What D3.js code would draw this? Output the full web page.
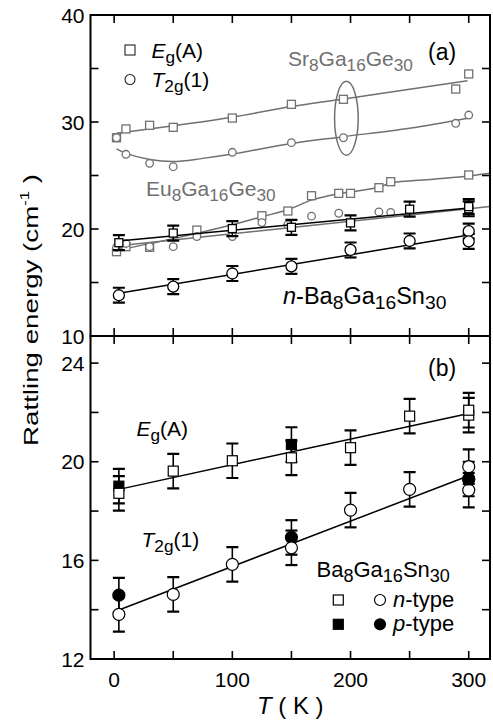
<!DOCTYPE html>
<html><head><meta charset="utf-8">
<script src="https://cdn.jsdelivr.net/npm/d3@7"></script>
<style>body{margin:0;background:#fff}svg{display:block;font-family:"Liberation Sans",Arial,sans-serif}</style>
</head><body><svg id="c" width="493" height="721"></svg>
<script>
// ---------- DATA ----------
const xTicks = [0,50,100,150,200,250,300];
const xTickLabels = [0,100,200,300];
const yTicksA = [10,15,20,25,30,35,40];
const yTickLabelsA = [10,20,30,40];
const yTicksB = [12,14,16,18,20,22,24];
const yTickLabelsB = [12,16,20,24];

// Sr8Ga16Ge30 (gray, panel a)
const srT = [2,10,30,50,100,150,194,289,300];
const srEg = [28.53,29.35,29.69,29.5,30.37,31.65,32.12,33.08,34.49];
const srT2gT = [2,10,30,50,100,150,194,289,300];
const srT2g = [28.53,26.98,26.14,25.82,27.17,28.07,28.53,29.88,30.65];
const srEgFitT = [2,100,150,200,299];
const srEgFit = [28.95,30.45,31.45,32.25,33.85];
const srT2gFitT = [2,10,30,50,75,100,150,194,250,299];
const srT2gFit = [27.48,27.07,26.5,26.3,26.6,27.0,28.0,28.63,29.41,30.34];

// Eu8Ga16Ge30 (gray, panel a)
const euEgT = [2,10,30,70,125,147,167,190,200,224,234,300];
const euEg = [17.88,18.35,18.29,19.9,21.24,21.68,23.11,23.33,23.33,23.86,24.42,25.05];
const euT2gT = [2,10,30,50,70,100,125,147,167,190,224,234];
const euT2g = [18.29,18.65,18.35,18.35,19.3,19.3,20.6,20.4,21.2,21.47,21.6,21.55];
const euEgFitT = [2,50,100,125,147,167,190,200,224,234,270,300,318];
const euEgFit = [18.0,19.1,20.4,21.15,21.8,22.7,23.3,23.45,23.9,24.3,24.65,24.95,25.2];
const euT2gFitT = [2,318];
const euT2gFit = [18.4,22.1];

// Ba8Ga16Sn30 (black)
const nT = [4,50,100,150,200,250,300,300];
const nEg = [18.72,19.62,20.04,20.16,20.57,21.85,21.89,22.09];
const nT2g = [13.81,14.62,15.84,16.51,18.04,18.88,19.8,18.85];
const nErr = [0.7,0.7,0.7,0.7,0.7,0.7,0.7,0.7];
const pEgT = [4,150];
const pEg = [19.01,20.7];
const pT2gT = [4,150,300];
const pT2g = [14.59,16.93,19.3];
const pErr = [0.7,0.7,0.7];
const fitT = [4,300];
const fitEg = [18.88,21.96];
const fitT2g = [13.99,19.43];

// ---------- LAYOUT ----------
const svg = d3.select('#c');
const L = 90.5, R = 490, topA = 15, midY = 336, botB = 659;
const x = d3.scaleLinear().domain([-20,318]).range([L,R]);
const yA = d3.scaleLinear().domain([10,40]).range([midY,topA]);
const yB = d3.scaleLinear().domain([12,25.1]).range([botB,midY]);
const GRAY = '#707070';
const FONT = 21;

svg.append('defs').call(d=>{
  d.append('clipPath').attr('id','clipA').append('rect').attr('x',L).attr('y',topA).attr('width',R-L).attr('height',midY-topA);
  d.append('clipPath').attr('id','clipB').append('rect').attr('x',L).attr('y',midY).attr('width',R-L).attr('height',botB-midY);
});

function rich(g, px, py, parts, size, color, anchor){
  const t = g.append('text').attr('x',px).attr('y',py).attr('font-size',size).attr('fill',color||'#000');
  if (anchor) t.attr('text-anchor',anchor);
  let shift = 0;
  parts.forEach(([s,k])=>{
    k = k||'';
    let target = 0, fs = size;
    if (k.includes('sub')) { target = size*0.22; fs = size*0.82; }
    if (k.includes('sup')) { target = -size*0.45; fs = size*0.6; }
    const ts = t.append('tspan').text(s).attr('font-size',fs);
    if (target-shift !== 0) ts.attr('dy', target-shift);
    if (k.includes('i')) ts.attr('font-style','italic');
    shift = target;
  });
  return t;
}

function zip(a,b){ return a.map((v,i)=>[v,b[i]]); }

function lineIn(g, y, xs, ys, color, w, curve){
  g.append('path').datum(zip(xs,ys))
   .attr('d', d3.line().x(d=>x(d[0])).y(d=>y(d[1])).curve(curve||d3.curveLinear))
   .attr('fill','none').attr('stroke',color).attr('stroke-width',w);
}
function squares(g, y, xs, ys, size, stroke, fill, sw){
  g.selectAll(null).data(zip(xs,ys)).enter().append('rect')
   .attr('x',d=>x(d[0])-size/2).attr('y',d=>y(d[1])-size/2)
   .attr('width',size).attr('height',size)
   .attr('fill',fill).attr('stroke',stroke).attr('stroke-width',sw);
}
function circles(g, y, xs, ys, r, stroke, fill, sw){
  g.selectAll(null).data(zip(xs,ys)).enter().append('circle')
   .attr('cx',d=>x(d[0])).attr('cy',d=>y(d[1])).attr('r',r)
   .attr('fill',fill).attr('stroke',stroke).attr('stroke-width',sw);
}
function errbars(g, y, xs, ys, es){
  const d = xs.map((v,i)=>[v,ys[i],es[i]]);
  const cw = 6;
  d.forEach(([t,v,e])=>{
    const cx = x(t);
    g.append('line').attr('x1',cx).attr('x2',cx).attr('y1',y(v+e)).attr('y2',y(v-e)).attr('stroke','#000').attr('stroke-width',1.6);
    [v+e,v-e].forEach(vv=>g.append('line').attr('x1',cx-cw).attr('x2',cx+cw).attr('y1',y(vv)).attr('y2',y(vv)).attr('stroke','#000').attr('stroke-width',2.2));
  });
}

// ---------- PANEL A ----------
const gA = svg.append('g').attr('clip-path','url(#clipA)');
lineIn(gA, yA, srEgFitT, srEgFit, GRAY, 1.5, d3.curveCatmullRom);
lineIn(gA, yA, srT2gFitT, srT2gFit, GRAY, 1.5, d3.curveCatmullRom);
lineIn(gA, yA, euEgFitT, euEgFit, GRAY, 1.5, d3.curveCatmullRom);
lineIn(gA, yA, euT2gFitT, euT2gFit, GRAY, 1.5);
squares(gA, yA, srT, srEg, 8, GRAY, '#fff', 1.3);
circles(gA, yA, srT2gT, srT2g, 3.8, GRAY, '#fff', 1.3);
squares(gA, yA, euEgT, euEg, 8, GRAY, '#fff', 1.3);
circles(gA, yA, euT2gT, euT2g, 3.8, GRAY, '#fff', 1.3);
// ellipse around Sr points
gA.append('ellipse').attr('cx',x(196.5)).attr('cy',yA(30.35)).attr('rx',x(206.5)-x(196.5)).attr('ry',yA(26.9)-yA(30.35))
  .attr('fill','none').attr('stroke',GRAY).attr('stroke-width',1.5);
// black n-Ba8Ga16Sn30
lineIn(gA, yA, fitT, fitEg, '#000', 1.5);
lineIn(gA, yA, fitT, fitT2g, '#000', 1.5);
errbars(gA, yA, nT, nEg, nErr);
errbars(gA, yA, nT, nT2g, nErr);
squares(gA, yA, nT, nEg, 8, '#000', '#fff', 1.3);
circles(gA, yA, nT, nT2g, 5.5, '#000', '#fff', 1.3);

// ---------- PANEL B ----------
const gB = svg.append('g').attr('clip-path','url(#clipB)');
lineIn(gB, yB, fitT, fitEg, '#000', 1.5);
lineIn(gB, yB, fitT, fitT2g, '#000', 1.5);
errbars(gB, yB, nT, nEg, nErr);
errbars(gB, yB, nT, nT2g, nErr);
errbars(gB, yB, pEgT, pEg, pErr);
errbars(gB, yB, pT2gT, pT2g, pErr);
squares(gB, yB, pEgT, pEg, 10, '#000', '#000', 1.2);
circles(gB, yB, pT2gT, pT2g, 6, '#000', '#000', 1.2);
squares(gB, yB, nT, nEg, 10, '#000', '#fff', 1.2);
circles(gB, yB, nT, nT2g, 6, '#000', '#fff', 1.2);
// p-type point drawn on top at 300 K as in reference
circles(gB, yB, [pT2gT[2]], [pT2g[2]], 6, '#000', '#000', 1.2);

// ---------- AXES ----------
const TL = 8;
function frame(y0, y1, ys, yTicks, yLabels){
  svg.append('rect').attr('x',L).attr('y',y0).attr('width',R-L).attr('height',y1-y0)
     .attr('fill','none').attr('stroke','#000').attr('stroke-width',2);
  const ax = svg.append('g');
  xTicks.forEach(t=>{
    ax.append('line').attr('x1',x(t)).attr('x2',x(t)).attr('y1',y1).attr('y2',y1-TL).attr('stroke','#000').attr('stroke-width',1.6);
    ax.append('line').attr('x1',x(t)).attr('x2',x(t)).attr('y1',y0).attr('y2',y0+TL).attr('stroke','#000').attr('stroke-width',1.6);
  });
  yTicks.forEach(v=>{
    ax.append('line').attr('x1',L).attr('x2',L+TL).attr('y1',ys(v)).attr('y2',ys(v)).attr('stroke','#000').attr('stroke-width',1.6);
    ax.append('line').attr('x1',R).attr('x2',R-TL).attr('y1',ys(v)).attr('y2',ys(v)).attr('stroke','#000').attr('stroke-width',1.6);
  });
  yLabels.forEach(v=>{
    ax.append('text').attr('x',L-6).attr('y',ys(v)+7.5).attr('text-anchor','end').attr('font-size',FONT).text(v);
  });
}
frame(topA, midY, yA, yTicksA, yTickLabelsA);
frame(midY, botB, yB, yTicksB, yTickLabelsB);
xTickLabels.forEach(t=>{
  svg.append('text').attr('x',x(t)).attr('y',687).attr('text-anchor','middle').attr('font-size',FONT).text(t);
});
rich(svg, (L+R)/2, 714, [['T','i'],[' ( K )']], 24, '#000', 'middle');

// y-axis label
const yl = rich(svg, 0, 0, [['Rattling energy (cm'],['-1','sup'],[' )']], 21, '#000', 'middle');
const len = yl.node().getComputedTextLength();
yl.attr('transform', `translate(38,310) rotate(-90) scale(${272/len},1)`);

// ---------- ANNOTATIONS ----------
// panel a legend
svg.append('rect').attr('x',125).attr('y',45).attr('width',10).attr('height',10).attr('fill','#fff').attr('stroke','#222').attr('stroke-width',1.1);
svg.append('circle').attr('cx',130).attr('cy',79.5).attr('r',5).attr('fill','#fff').attr('stroke','#222').attr('stroke-width',1.1);
rich(svg, 151.5, 58, [['E','i'],['g','sub'],['(A)']], FONT);
rich(svg, 151.5, 87, [['T','i'],['2g','sub'],['(1)']], FONT);
rich(svg, 428, 60, [['(a)']], 23);
rich(svg, 288, 66, [['Sr'],['8','sub'],['Ga'],['16','sub'],['Ge'],['30','sub']], FONT, GRAY);
rich(svg, 146, 196, [['Eu'],['8','sub'],['Ga'],['16','sub'],['Ge'],['30','sub']], FONT, GRAY);
rich(svg, 283, 304, [['n','i'],['-Ba'],['8','sub'],['Ga'],['16','sub'],['Sn'],['30','sub']], 23.5);

// panel b
rich(svg, 428, 376, [['(b)']], 23);
rich(svg, 136.5, 436, [['E','i'],['g','sub'],['(A)']], FONT);
rich(svg, 141.5, 547, [['T','i'],['2g','sub'],['(1)']], FONT);
rich(svg, 316.5, 577, [['Ba'],['8','sub'],['Ga'],['16','sub'],['Sn'],['30','sub']], 22);
svg.append('rect').attr('x',333.3).attr('y',595).attr('width',10).attr('height',10).attr('fill','#fff').attr('stroke','#000').attr('stroke-width',1.2);
svg.append('circle').attr('cx',380).attr('cy',600).attr('r',5.5).attr('fill','#fff').attr('stroke','#000').attr('stroke-width',1.2);
svg.append('rect').attr('x',333.3).attr('y',619.3).attr('width',10).attr('height',10).attr('fill','#000').attr('stroke','#000').attr('stroke-width',1.2);
svg.append('circle').attr('cx',380).attr('cy',624.3).attr('r',5.5).attr('fill','#000').attr('stroke','#000').attr('stroke-width',1.2);
rich(svg, 393, 607, [['n','i'],['-type']], 22);
rich(svg, 393, 631, [['p','i'],['-type']], 22);
</script></body></html>
